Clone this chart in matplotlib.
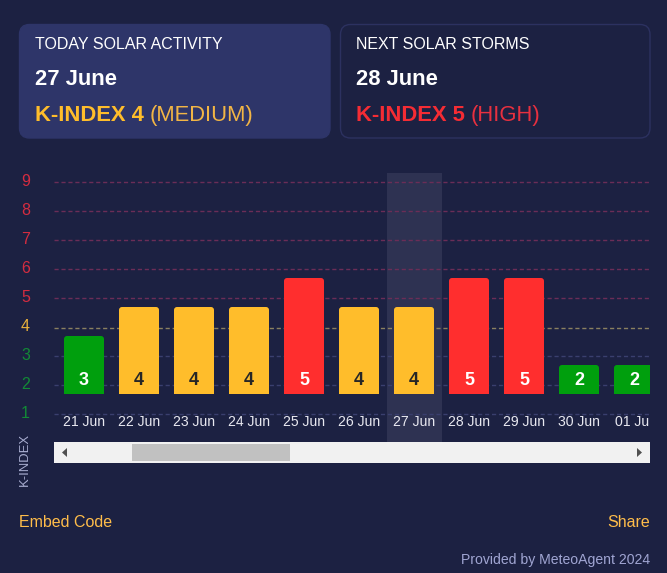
import matplotlib
matplotlib.use("Agg")
import matplotlib.pyplot as plt
from matplotlib.patches import FancyBboxPatch, Rectangle, Polygon
from matplotlib.transforms import ScaledTranslation

plt.rcParams['font.family'] = ['Liberation Sans', 'DejaVu Sans']

# ---- data ----
dates = ['21 Jun', '22 Jun', '23 Jun', '24 Jun', '25 Jun', '26 Jun',
         '27 Jun', '28 Jun', '29 Jun', '30 Jun', '01 Jul']
k_index = [3, 4, 4, 4, 5, 4, 4, 5, 5, 2, 2]
levels = [1, 2, 3, 4, 5, 6, 7, 8, 9]
today_pos = 6

BG = '#1c2142'
ORANGE = '#ffbd2b'
RED = '#ff2e2e'
GREEN = '#009f0d'


def level_color(v):
    return GREEN if v <= 3 else (ORANGE if v == 4 else RED)


def tick_color(v):
    return '#128a36' if v <= 3 else ('#e8b03c' if v == 4 else '#d42c40')


def grid_color(v):
    return '#3a3f6e' if v <= 3 else ('#8a8060' if v == 4 else '#6b2d57')


W, H = 667, 573
fig = plt.figure(figsize=(W / 100, H / 100), dpi=100, facecolor=BG)
px = 0.72  # points per pixel at dpi 100

# ---- overlay in pixel coordinates ----
ov = fig.add_axes([0, 0, 1, 1], zorder=3)
ov.set_xlim(0, W)
ov.set_ylim(H, 0)
ov.axis('off')
ov.patch.set_alpha(0)


def card(x0, y0, x1, y1, face, edge):
    r = 10
    ov.add_patch(FancyBboxPatch((x0 + r, y0 + r), x1 - x0 - 2 * r, y1 - y0 - 2 * r,
                                boxstyle=f'round,pad={r},rounding_size={r}',
                                fc=face, ec=edge, lw=1.0))


card(19.5, 24.5, 330, 138, '#2e3569', '#2e3569')
card(340.5, 24.5, 650, 138, BG, '#2c3160')

renderer = fig.canvas.get_renderer()


def status(x, y, bold, rest, col_b, col_r):
    t = ov.text(x, y, bold, color=col_b, fontsize=22 * px, fontweight='bold',
                va='baseline', ha='left')
    w = t.get_window_extent(renderer).width
    ov.text(x + w + 6, y, rest, color=col_r, fontsize=22 * px, va='baseline', ha='left')


ov.text(35, 49, 'TODAY SOLAR ACTIVITY', color='white', fontsize=16 * px, va='baseline')
ov.text(35, 85, '27 June', color='white', fontsize=22 * px, fontweight='bold', va='baseline')
status(35, 121, 'K-INDEX 4', '(MEDIUM)', ORANGE, '#f2b545')
ov.text(356, 49, 'NEXT SOLAR STORMS', color='white', fontsize=16 * px, va='baseline')
ov.text(356, 85, '28 June', color='white', fontsize=22 * px, fontweight='bold', va='baseline')
status(356, 121, 'K-INDEX 5', '(HIGH)', '#f52c34', '#e8303f')

ov.text(24.5, 460, 'K-INDEX', color='#a8add0', fontsize=13 * px, rotation=90,
        ha='center', va='center')

# scrollbar
ov.add_patch(Rectangle((54, 442), 596, 21, fc='#f1f1f1', ec='none'))
ov.add_patch(Rectangle((132, 444), 158, 17, fc='#c1c1c1', ec='none'))
ov.add_patch(Polygon([[62, 452.5], [67, 448], [67, 457]], fc='#505050', ec='none'))
ov.add_patch(Polygon([[642, 452.5], [637, 448], [637, 457]], fc='#505050', ec='none'))

ov.text(19, 527, 'Embed Code', color='#ffbd4a', fontsize=16 * px, va='baseline')
ov.text(650, 527, 'Share', color='#ffbd4a', fontsize=16 * px, va='baseline', ha='right')
ov.text(650, 564, 'Provided by MeteoAgent 2024', color='#a0a5d2', fontsize=14 * px,
        va='baseline', ha='right')

# ---- chart ----
ax_l, ax_r, ax_t, ax_b = 54, 650, 173, 442
ax = fig.add_axes([ax_l / W, 1 - ax_b / H, (ax_r - ax_l) / W, (ax_b - ax_t) / H],
                  zorder=2, facecolor='none')
px_per_cat = 55
px_per_level = 29
ax.set_xlim((ax_l - 84) / px_per_cat, (ax_r - 84) / px_per_cat)
ax.set_ylim(1 + (414.3 - ax_b) / px_per_level, 1 + (414.3 - ax_t) / px_per_level)
for s in ax.spines.values():
    s.set_visible(False)

ax.axvspan(today_pos - 0.5, today_pos + 0.5, fc='#2e3252', ec='none', zorder=0)

for v in levels:
    y = v + (-0.035 if v == 4 else 0)
    ax.axhline(y, color=grid_color(v), lw=1, dashes=(3, 2), zorder=1)

BAR_BASE = 1.7
bar_w = 40 / px_per_cat
heights = [v - 1 for v in k_index]
bars = ax.bar(range(len(dates)), heights, bottom=BAR_BASE, width=bar_w,
              color=[level_color(v) for v in k_index], zorder=2, linewidth=0)
# rounded top corners
r_x = 3 / px_per_cat
for b in bars:
    clip = FancyBboxPatch((b.get_x() + r_x, b.get_y() - 1),
                          b.get_width() - 2 * r_x, b.get_height() + 1 - r_x * px_per_cat / px_per_level,
                          boxstyle=f'round,pad={r_x},rounding_size={r_x}',
                          mutation_aspect=px_per_cat / px_per_level,
                          transform=ax.transData)
    b.set_clip_path(clip)

for i, v in enumerate(k_index):
    ax.text(i, 2.18, str(v), ha='center', va='center', fontsize=18 * px, fontweight='bold',
            color='#262626' if v == 4 else 'white', zorder=3)

ax.set_xticks(range(len(dates)), dates)
ax.set_yticks(levels, [str(v) for v in levels])
ax.tick_params(axis='both', length=0)
ax.tick_params(axis='x', pad=-27.5 * px, labelsize=14 * px, labelcolor='#e8e8f0')
ax.tick_params(axis='y', pad=24 * px, labelsize=16 * px)
for lab in ax.get_xticklabels():
    lab.set_clip_box(ax.bbox)
    lab.set_clip_on(True)
    lab.set_zorder(5)
for lab, v in zip(ax.get_yticklabels(), levels):
    lab.set_color(tick_color(v))
    lab.set_transform(lab.get_transform() + ScaledTranslation(0, 2 / 72 / px * px, fig.dpi_scale_trans))

fig.savefig('out.png', dpi=100, facecolor=BG)
